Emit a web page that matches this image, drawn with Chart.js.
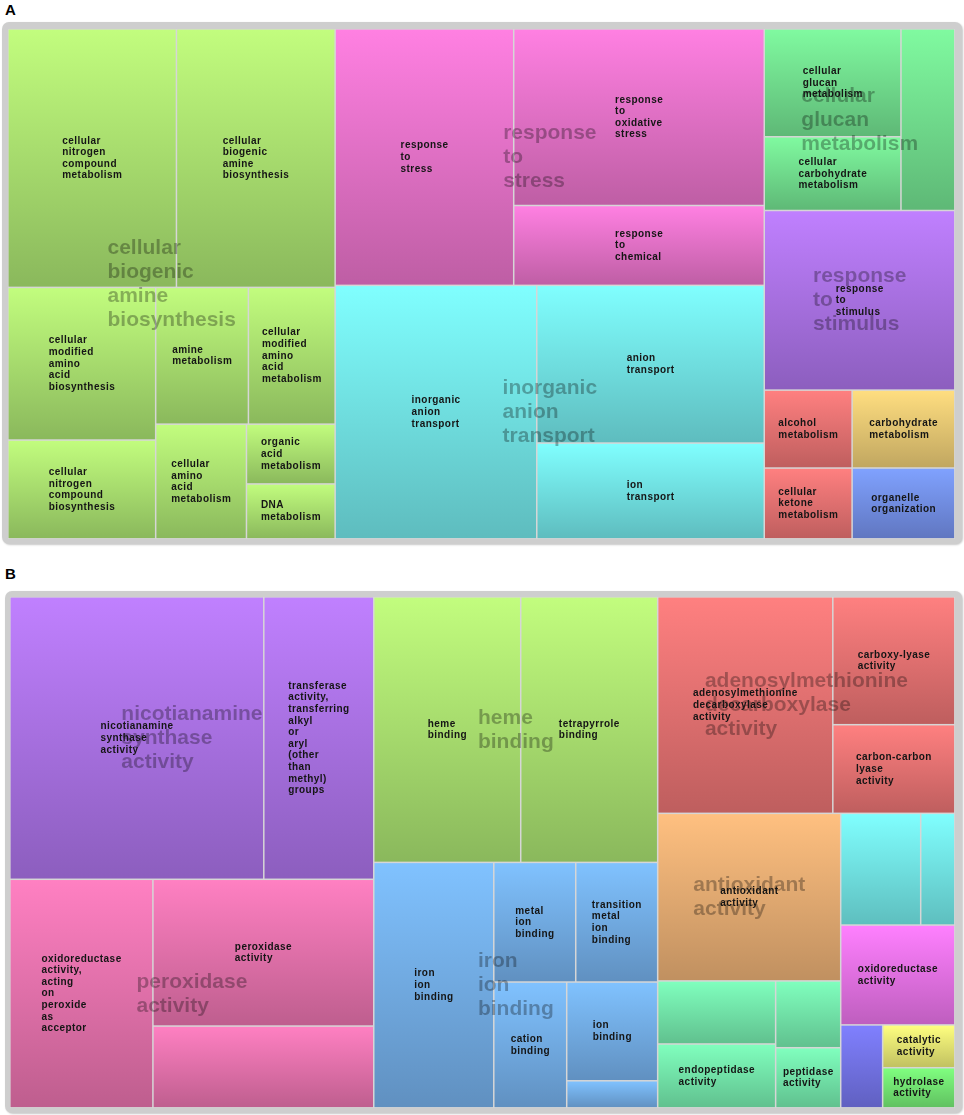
<!DOCTYPE html>
<html><head><meta charset="utf-8">
<script src="https://cdn.jsdelivr.net/npm/chart.js@4.4.0/dist/chart.umd.min.js"></script>
<style>
html,body{margin:0;padding:0;background:#fff;width:964px;height:1115px;overflow:hidden;font-family:"Liberation Sans",Arial,sans-serif;}
.tag{position:absolute;font-weight:bold;font-size:15px;color:#000;line-height:16px}
.frame{position:absolute;background:#cecece;border-radius:7px;box-shadow:1px 1px 2px rgba(0,0,0,0.22);}
canvas{position:absolute;}
</style></head><body>
<div class="tag" style="left:5px;top:2px">A</div>
<div class="frame" style="left:2px;top:22px;width:960px;height:522px"></div>
<canvas id="cA" width="947" height="510" style="left:8px;top:29px;width:947px;height:510px"></canvas>
<div class="tag" style="left:5px;top:566px">B</div>
<div class="frame" style="left:5px;top:591px;width:957px;height:522px"></div>
<canvas id="cB" width="945" height="511" style="left:10px;top:597px;width:945px;height:511px"></canvas>
<script>
// ---------- Panel A data ----------
const cellsA = [
  'cellular nitrogen compound metabolism',
  'cellular biogenic amine biosynthesis',
  'cellular modified amino acid biosynthesis',
  'cellular nitrogen compound biosynthesis',
  'amine metabolism',
  'cellular modified amino acid metabolism',
  'cellular amino acid metabolism',
  'organic acid metabolism',
  'DNA metabolism',
  'response to stress',
  'response to oxidative stress',
  'response to chemical',
  'inorganic anion transport',
  'anion transport',
  'ion transport',
  'cellular glucan metabolism',
  'cellular carbohydrate metabolism',
  '',
  'response to stimulus',
  'alcohol metabolism',
  'cellular ketone metabolism',
  'carbohydrate metabolism',
  'organelle organization'
];
const valuesA = [9.04, 8.51, 4.68, 3.03, 2.63, 2.46, 2.16, 1.10, 1.01,
                 9.50, 9.18, 4.15, 10.60, 7.44, 4.52,
                 3.06, 2.09, 2.03, 7.10, 1.42, 1.29, 1.66, 1.51];
const groupOfA = [0,0,0,0,0,0,0,0,0, 1,1,1, 2,2,2, 3,3,3, 4, 5,5, 6, 7];
const groupNamesA = ['cellular biogenic amine biosynthesis', 'response to stress',
  'inorganic anion transport', 'cellular glucan metabolism', 'response to stimulus', '', '', ''];
const groupTopA = ['rgb(194,253,126)', 'rgb(255,128,226)', 'rgb(128,255,255)', 'rgb(128,250,160)',
  'rgb(192,128,255)', 'rgb(255,128,128)', 'rgb(255,222,128)', 'rgb(128,162,255)'];
const groupBottomA = ['rgb(138,184,92)', 'rgb(190,94,164)', 'rgb(94,188,190)', 'rgb(94,184,118)',
  'rgb(140,94,190)', 'rgb(190,94,94)', 'rgb(192,166,96)', 'rgb(96,118,192)'];
const treeA = ['h',
  ['v', ['h', 0, 1], ['h', ['v', 2, 3], ['v', ['h', 4, 5], ['h', 6, ['v', 7, 8]]]]],
  ['v', ['h', 9, ['v', 10, 11]], ['h', 12, ['v', 13, 14]]],
  ['v', ['h', ['v', 15, 16], 17], 18, ['h', ['v', 19, 20], ['v', 21, 22]]]
];

// ---------- Panel B data ----------
const cellsB = [
  'nicotianamine synthase activity',
  'transferase activity, transferring alkyl or aryl (other than methyl) groups',
  'oxidoreductase activity, acting on peroxide as acceptor',
  'peroxidase activity',
  '',
  'heme binding',
  'tetrapyrrole binding',
  'iron ion binding',
  'metal ion binding',
  'transition metal ion binding',
  'cation binding',
  'ion binding',
  '',
  'adenosylmethionine decarboxylase activity',
  'carboxy-lyase activity',
  'carbon-carbon lyase activity',
  'antioxidant activity',
  '',
  'endopeptidase activity',
  '',
  'peptidase activity',
  '',
  '',
  'oxidoreductase activity',
  '',
  'catalytic activity',
  'hydrolase activity'
];
const valuesB = [14.85, 6.43, 6.77, 6.71, 3.74,
                 8.08, 7.53, 6.10, 2.03, 2.03, 1.90, 1.86, 0.51,
                 7.85, 3.23, 2.24, 6.35, 1.54, 1.56, 0.90, 0.81,
                 1.85, 0.79, 2.36, 0.72, 0.64, 0.60];
const groupOfB = [0,0, 1,1,1, 2,2, 3,3,3,3,3,3, 4,4,4, 5, 6,6,6,6, 7,7, 8, 9, 10, 11];
const groupNamesB = ['nicotianamine synthase activity', 'peroxidase activity', 'heme binding',
  'iron ion binding', 'adenosylmethionine decarboxylase activity', 'antioxidant activity',
  '', '', '', '', '', ''];
const groupTopB = ['rgb(192,128,255)', 'rgb(255,128,194)', 'rgb(194,253,126)', 'rgb(128,194,255)',
  'rgb(255,128,128)', 'rgb(255,192,128)', 'rgb(128,255,190)', 'rgb(128,255,255)',
  'rgb(255,128,255)', 'rgb(128,128,255)', 'rgb(255,255,128)', 'rgb(128,255,128)'];
const groupBottomB = ['rgb(140,94,190)', 'rgb(190,94,142)', 'rgb(138,184,92)', 'rgb(96,144,192)',
  'rgb(190,94,94)', 'rgb(192,144,96)', 'rgb(96,192,142)', 'rgb(94,190,190)',
  'rgb(190,94,190)', 'rgb(96,96,192)', 'rgb(192,192,96)', 'rgb(96,192,96)'];
const treeB = ['h',
  ['v', ['h', 0, 1], ['h', 2, ['v', 3, 4]]],
  ['v', ['h', 5, 6], ['h', 7, ['v', ['h', 8, 9], ['h', 10, ['v', 11, 12]]]]],
  ['v', ['h', 13, ['v', 14, 15]],
        ['h', ['v', 16, ['h', ['v', 17, 18], ['v', 19, 20]]],
              ['v', ['h', 21, 22], 23, ['h', 24, ['v', 25, 26]]]]]
];

// ---------- slice-and-dice layout from values (data units 0..100) ----------
function sumOf(node, vals) {
  if (typeof node === 'number') return vals[node];
  return node.slice(1).reduce((s, k) => s + sumOf(k, vals), 0);
}
function layout(node, vals, x0, y0, x1, y1, out) {
  if (typeof node === 'number') { out[node] = {x0, y0, x1, y1}; return; }
  const dir = node[0], kids = node.slice(1);
  const sums = kids.map(k => sumOf(k, vals));
  const total = sums.reduce((a, b) => a + b, 0);
  let pos = dir === 'h' ? x0 : y0;
  const len = dir === 'h' ? x1 - x0 : y1 - y0;
  kids.forEach((k, i) => {
    const span = len * sums[i] / total;
    if (dir === 'h') layout(k, vals, pos, y0, pos + span, y1, out);
    else layout(k, vals, x0, pos, x1, pos + span, out);
    pos += span;
  });
}

const FONT = '"Liberation Sans", Arial, sans-serif';
const treemapPlugin = {
  id: 'treemapDraw',
  beforeDraw(chart) {
    const a = chart.chartArea, ctx = chart.ctx;
    ctx.save(); ctx.fillStyle = '#d6d6d6';
    ctx.fillRect(a.left, a.top, a.right - a.left, a.bottom - a.top);
    ctx.restore();
  },
  afterDatasetsDraw(chart) {
    const ds = chart.data.datasets[0];
    const xs = chart.scales.x, ys = chart.scales.y, ctx = chart.ctx;
    const px = r => ({
      l: xs.getPixelForValue(r.x0), r: xs.getPixelForValue(r.x1),
      t: ys.getPixelForValue(r.y0), b: ys.getPixelForValue(r.y1)
    });
    ctx.save();
    // cells
    ds.data.forEach(d => {
      const p = px(d);
      const g = ctx.createLinearGradient(0, p.t, 0, p.b);
      g.addColorStop(0, ds.tops[d.group]);
      g.addColorStop(1, ds.bottoms[d.group]);
      ctx.fillStyle = g;
      ctx.fillRect(p.l + 0.6, p.t + 0.6, p.r - p.l - 1.5, p.b - p.t - 1.5);
    });
    // group (representative) labels
    ctx.font = 'bold 21px ' + FONT;
    ctx.fillStyle = 'rgba(0,0,0,0.3)';
    ctx.textBaseline = 'middle';
    ctx.textAlign = 'left';
    ds.groupNames.forEach((name, gi) => {
      if (!name) return;
      const members = ds.data.filter(d => d.group === gi);
      const box = {
        x0: Math.min(...members.map(m => m.x0)), x1: Math.max(...members.map(m => m.x1)),
        y0: Math.min(...members.map(m => m.y0)), y1: Math.max(...members.map(m => m.y1))
      };
      const p = px(box);
      const cx = (p.l + p.r) / 2, cy = (p.t + p.b) / 2;
      const lines = name.split(' ');
      const w = Math.max(...lines.map(s => ctx.measureText(s).width));
      const lh = 24;
      lines.forEach((s, i) => ctx.fillText(s, cx - w / 2, cy + (i - (lines.length - 1) / 2) * lh));
    });
    // cell labels
    ctx.font = 'bold 10px ' + FONT;
    try { ctx.letterSpacing = '0.45px'; } catch (e) {}
    ctx.fillStyle = '#151515';
    ds.data.forEach(d => {
      if (!d.label) return;
      const p = px(d);
      const cx = (p.l + p.r) / 2, cy = (p.t + p.b) / 2;
      const lines = d.label.split(' ');
      const w = Math.max(...lines.map(s => ctx.measureText(s).width));
      const lh = 11.6;
      lines.forEach((s, i) => ctx.fillText(s, cx - w / 2, cy + (i - (lines.length - 1) / 2) * lh));
    });
    ctx.restore();
  }
};

function makeTreemap(id, cells, values, groupOf, groupNames, tops, bottoms, tree) {
  const rects = [];
  layout(tree, values, 0, 0, 100, 100, rects);
  const data = rects.map((r, i) => ({
    x: (r.x0 + r.x1) / 2, y: (r.y0 + r.y1) / 2,
    x0: r.x0, x1: r.x1, y0: r.y0, y1: r.y1,
    label: cells[i], value: values[i], group: groupOf[i]
  }));
  return new Chart(document.getElementById(id), {
    type: 'scatter',
    data: { datasets: [{ data, groupNames, tops, bottoms, pointRadius: 0 }] },
    options: {
      responsive: false, animation: false, events: [],
      layout: { padding: 0 },
      plugins: { legend: { display: false }, tooltip: { enabled: false } },
      scales: {
        x: { type: 'linear', min: 0, max: 100, display: false },
        y: { type: 'linear', min: 0, max: 100, reverse: true, display: false }
      }
    },
    plugins: [treemapPlugin]
  });
}

makeTreemap('cA', cellsA, valuesA, groupOfA, groupNamesA, groupTopA, groupBottomA, treeA);
makeTreemap('cB', cellsB, valuesB, groupOfB, groupNamesB, groupTopB, groupBottomB, treeB);
</script>
</body></html>
